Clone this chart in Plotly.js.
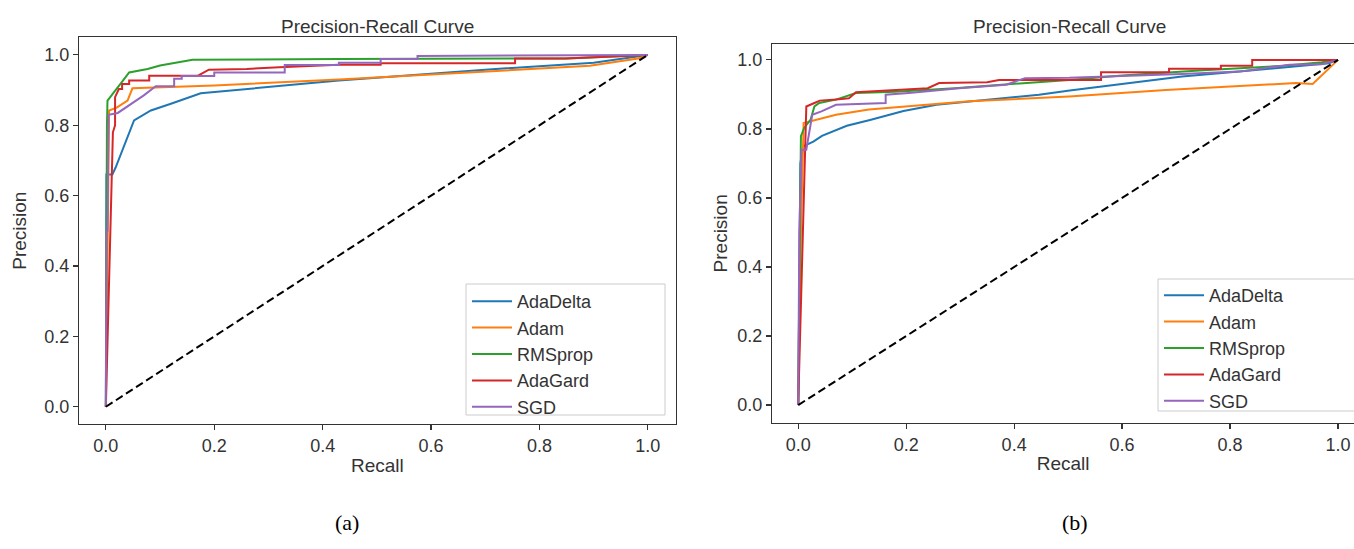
<!DOCTYPE html>
<html>
<head>
<meta charset="utf-8">
<script src="https://cdn.plot.ly/plotly-3.0.1.min.js"></script>
<style>
html,body{margin:0;padding:0;background:#fff;overflow:hidden;}
#chart{width:1354px;height:549px;}
</style>
</head>
<body>
<div id="chart"></div>
<script>
// ---------- data ----------
const seriesNames = ["AdaDelta", "Adam", "RMSprop", "AdaGard", "SGD"];
const seriesColors = ["#1f77b4", "#ff7f0e", "#2ca02c", "#d62728", "#9467bd"];
const tickVals = [0, 0.2, 0.4, 0.6, 0.8, 1.0];
const tickText = ["0.0", "0.2", "0.4", "0.6", "0.8", "1.0"];
const chanceX = [0, 1];
const chanceY = [0, 1];

// (a) left panel
const a_AdaDelta_recall = [0, 0.001, 0.012, 0.018, 0.052, 0.083, 0.12, 0.175, 0.43, 0.7, 0.9, 1.0];
const a_AdaDelta_prec   = [0, 0.66, 0.66, 0.68, 0.814, 0.842, 0.861, 0.891, 0.927, 0.958, 0.978, 1.0];
const a_Adam_recall = [0, 0.003, 0.006, 0.02, 0.04, 0.049, 0.1, 0.2, 0.43, 0.74, 0.893, 0.982, 1.0];
const a_Adam_prec   = [0, 0.5, 0.842, 0.85, 0.87, 0.905, 0.907, 0.913, 0.93, 0.955, 0.969, 0.99, 1.0];
const a_RMSprop_recall = [0, 0.001, 0.002, 0.003, 0.01, 0.028, 0.043, 0.077, 0.10, 0.13, 0.16, 0.43, 0.85, 1.0];
const a_RMSprop_prec   = [0, 0.6, 0.8, 0.87, 0.885, 0.92, 0.95, 0.96, 0.97, 0.979, 0.986, 0.988, 0.99, 1.0];
const a_AdaGard_recall = [0, 0.013, 0.017, 0.017, 0.024, 0.03, 0.03, 0.043, 0.043, 0.08, 0.08, 0.17, 0.19, 0.26, 0.32, 0.43, 0.507, 0.507, 0.755, 0.755, 0.847, 1.0];
const a_AdaGard_prec   = [0, 0.78, 0.80, 0.88, 0.903, 0.903, 0.917, 0.917, 0.927, 0.927, 0.941, 0.941, 0.958, 0.96, 0.965, 0.972, 0.972, 0.976, 0.976, 0.99, 0.99, 1.0];
const a_SGD_recall = [0, 0.001, 0.003, 0.005, 0.022, 0.07, 0.092, 0.126, 0.126, 0.14, 0.14, 0.2, 0.2, 0.33, 0.33, 0.43, 0.43, 0.507, 0.507, 0.575, 0.575, 1.0];
const a_SGD_prec   = [0, 0.5, 0.5, 0.83, 0.835, 0.885, 0.911, 0.911, 0.932, 0.932, 0.94, 0.94, 0.95, 0.95, 0.971, 0.971, 0.978, 0.978, 0.988, 0.988, 0.997, 1.0];

// (b) right panel
const b_AdaDelta_recall = [0, 0.002, 0.004, 0.01, 0.028, 0.044, 0.09, 0.133, 0.195, 0.256, 0.446, 0.503, 0.711, 0.817, 0.983, 1.0];
const b_AdaDelta_prec   = [0, 0.3, 0.7, 0.75, 0.763, 0.78, 0.809, 0.826, 0.852, 0.87, 0.899, 0.911, 0.952, 0.966, 0.99, 1.0];
const b_Adam_recall = [0, 0.005, 0.01, 0.033, 0.07, 0.131, 0.205, 0.317, 0.502, 0.681, 0.922, 0.953, 1.0];
const b_Adam_prec   = [0, 0.5, 0.817, 0.827, 0.841, 0.856, 0.865, 0.88, 0.894, 0.913, 0.933, 0.93, 1.0];
const b_RMSprop_recall = [0, 0.003, 0.005, 0.011, 0.023, 0.03, 0.039, 0.07, 0.107, 0.18, 0.29, 0.502, 0.6, 0.75, 0.9, 0.97, 1.0];
const b_RMSprop_prec   = [0, 0.6, 0.779, 0.803, 0.827, 0.865, 0.875, 0.885, 0.904, 0.908, 0.918, 0.942, 0.955, 0.97, 0.983, 0.993, 1.0];
const b_AdaGard_recall = [0, 0.013, 0.015, 0.03, 0.04, 0.07, 0.094, 0.107, 0.18, 0.24, 0.261, 0.35, 0.372, 0.561, 0.561, 0.687, 0.687, 0.783, 0.783, 0.841, 0.841, 1.0];
const b_AdaGard_prec   = [0, 0.7, 0.865, 0.875, 0.882, 0.885, 0.889, 0.906, 0.913, 0.918, 0.933, 0.935, 0.942, 0.942, 0.964, 0.964, 0.974, 0.974, 0.983, 0.983, 1.0, 1.0];
const b_SGD_recall = [0, 0.002, 0.006, 0.015, 0.026, 0.043, 0.07, 0.162, 0.162, 0.205, 0.298, 0.385, 0.42, 0.502, 0.711, 0.817, 0.84, 0.91, 0.97, 1.0];
const b_SGD_prec   = [0, 0.5, 0.74, 0.74, 0.841, 0.851, 0.87, 0.875, 0.899, 0.904, 0.918, 0.928, 0.947, 0.948, 0.959, 0.966, 0.971, 0.986, 0.987, 1.0];

const panelA = [
  [a_AdaDelta_recall, a_AdaDelta_prec],
  [a_Adam_recall, a_Adam_prec],
  [a_RMSprop_recall, a_RMSprop_prec],
  [a_AdaGard_recall, a_AdaGard_prec],
  [a_SGD_recall, a_SGD_prec]
];
const panelB = [
  [b_AdaDelta_recall, b_AdaDelta_prec],
  [b_Adam_recall, b_Adam_prec],
  [b_RMSprop_recall, b_RMSprop_prec],
  [b_AdaGard_recall, b_AdaGard_prec],
  [b_SGD_recall, b_SGD_prec]
];

// ---------- build ----------
const FONT = "Liberation Sans, Arial, sans-serif";
const TXT = "#333333";
const traces = [];
panelA.forEach((s, i) => {
  traces.push({x: s[0], y: s[1], type: "scatter", mode: "lines", name: seriesNames[i],
    line: {color: seriesColors[i], width: 2}, xaxis: "x", yaxis: "y", legend: "legend"});
});
traces.push({x: chanceX, y: chanceY, type: "scatter", mode: "lines", showlegend: false,
  line: {color: "#000000", width: 2, dash: "8px,4px"}, xaxis: "x", yaxis: "y", hoverinfo: "skip"});
panelB.forEach((s, i) => {
  traces.push({x: s[0], y: s[1], type: "scatter", mode: "lines", name: seriesNames[i],
    line: {color: seriesColors[i], width: 2}, xaxis: "x2", yaxis: "y2", legend: "legend2"});
});
traces.push({x: chanceX, y: chanceY, type: "scatter", mode: "lines", showlegend: false,
  line: {color: "#000000", width: 2, dash: "8px,4px"}, xaxis: "x2", yaxis: "y2", hoverinfo: "skip"});

const W = 1354, H = 549;
const px = v => v / W;
const py = v => (H - v) / H;

function axisBase(extra) {
  return Object.assign({
    showgrid: false, zeroline: false, showline: true, linecolor: "#333333", linewidth: 1.3,
    ticks: "outside", ticklen: 5, tickwidth: 1.2, tickcolor: "#333333",
    tickvals: tickVals, ticktext: tickText,
    tickfont: {family: FONT, size: 18, color: TXT},
    fixedrange: true, automargin: false
  }, extra);
}

const layout = {
  width: W, height: H,
  margin: {l: 0, r: 0, t: 0, b: 0, autoexpand: false},
  paper_bgcolor: "#ffffff", plot_bgcolor: "#ffffff",
  font: {family: FONT, color: TXT},
  showlegend: true,
  xaxis: axisBase({domain: [px(79.3), px(675.5)], range: [-0.049, 1.051], anchor: "y", mirror: true,
    title: {text: "Recall", font: {family: FONT, size: 19, color: TXT}, standoff: 3}}),
  yaxis: axisBase({domain: [py(424), py(37.3)], range: [-0.049, 1.05], anchor: "x", mirror: true,
    title: {text: "Precision", font: {family: FONT, size: 19, color: TXT}, standoff: 12}}),
  xaxis2: axisBase({domain: [px(772.3), 1], range: [-0.048, 1.0296], anchor: "y2", mirror: true,
    title: {text: "Recall", font: {family: FONT, size: 19, color: TXT}, standoff: 3}}),
  yaxis2: axisBase({domain: [py(422.7), py(44)], range: [-0.051, 1.046], anchor: "x2", mirror: false,
    title: {text: "Precision", font: {family: FONT, size: 19, color: TXT}, standoff: 4}}),
  legend: {x: px(467), xanchor: "left", y: py(283), yanchor: "top", bgcolor: "rgba(0,0,0,0)",
    borderwidth: 0, itemwidth: 40, tracegroupgap: 0, font: {family: FONT, size: 18, color: TXT}},
  legend2: {x: px(1159), xanchor: "left", y: py(277), yanchor: "top", bgcolor: "rgba(0,0,0,0)",
    borderwidth: 0, itemwidth: 40, tracegroupgap: 0, font: {family: FONT, size: 18, color: TXT}},
  shapes: [
    {type: "rect", xref: "paper", yref: "paper", x0: px(466), x1: px(665), y0: py(415), y1: py(284),
      line: {color: "#cccccc", width: 1}, fillcolor: "rgba(255,255,255,0.85)", layer: "above"},
    {type: "rect", xref: "paper", yref: "paper", x0: px(1158), x1: px(1365), y0: py(411), y1: py(279),
      line: {color: "#cccccc", width: 1}, fillcolor: "rgba(255,255,255,0.85)", layer: "above"}
  ],
  annotations: [
    {text: "Precision-Recall Curve", xref: "x domain", yref: "paper", x: 0.5, y: py(26),
      xanchor: "center", yanchor: "middle", showarrow: false, font: {family: FONT, size: 19, color: TXT}},
    {text: "Precision-Recall Curve", xref: "paper", yref: "paper", x: px(1069), y: py(26),
      xanchor: "center", yanchor: "middle", showarrow: false, font: {family: FONT, size: 19, color: TXT}},
    {text: "(a)", xref: "paper", yref: "paper", x: px(347), y: py(522),
      xanchor: "center", yanchor: "middle", showarrow: false, font: {family: "Liberation Serif, serif", size: 22, color: "#000"}},
    {text: "(b)", xref: "paper", yref: "paper", x: px(1075), y: py(522),
      xanchor: "center", yanchor: "middle", showarrow: false, font: {family: "Liberation Serif, serif", size: 22, color: "#000"}}
  ]
};

Plotly.newPlot("chart", traces, layout, {displayModeBar: false, staticPlot: true});
</script>
</body>
</html>
